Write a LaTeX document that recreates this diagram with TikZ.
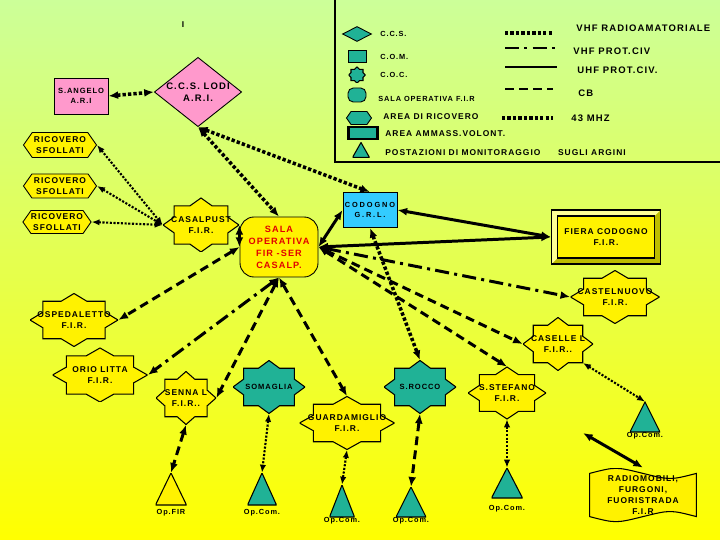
\documentclass[tikz,border=0pt]{standalone}
\usepackage{fontspec}
\setmainfont{Liberation Sans}
\newfontfamily\lbl[LetterSpace=12]{Liberation Sans}
\usetikzlibrary{arrows.meta, positioning, shapes.geometric, shapes.symbols, calc}
\newlength\unitpx
\setlength\unitpx{0.02cm}
\definecolor{bgtop}{RGB}{204,255,153}
\definecolor{bgbot}{RGB}{255,255,0}
\definecolor{pinkbox}{RGB}{255,153,204}
\definecolor{tealbox}{RGB}{32,178,150}
\definecolor{cyanbox}{RGB}{51,204,255}
\definecolor{bevdark}{RGB}{189,189,0}
\definecolor{bevlight}{RGB}{255,255,150}
\definecolor{salared}{RGB}{225,0,0}

\begin{document}
\begin{tikzpicture}[
    x=0.02cm, y=-0.02cm,
    every node/.style={font=\lbl\bfseries\fontsize{4.8}{6.2}\selectfont, align=center, inner sep=0pt},
    small/.style={font=\lbl\bfseries\fontsize{4.2}{5}\selectfont},
    mid/.style={font=\lbl\bfseries\fontsize{4.3}{5.5}\selectfont},
    big/.style={font=\lbl\bfseries\fontsize{5.4}{7}\selectfont},
    lkey/.style={font=\lbl\bfseries\fontsize{5.4}{6}\selectfont},
    box/.style={draw, fill=#1, line width=0.5pt},
    hexa/.style={signal, signal to=west and east, signal pointer angle=110, draw, fill=#1, line width=0.5pt},
    starbox/.style n args={3}{minimum width=#1\unitpx, minimum height=#2\unitpx,
        path picture={\filldraw[fill=#3, line width=0.6pt]
            let \p0=(path picture bounding box.center), \p1=($(path picture bounding box.north east)-(\p0)$) in
            (\x0+\x1,\y0) -- (\x0+.707*\x1,\y0+.293*\y1) -- (\x0+.707*\x1,\y0+.707*\y1) -- (\x0+.293*\x1,\y0+.707*\y1)
            -- (\x0,\y0+\y1) -- (\x0-.293*\x1,\y0+.707*\y1) -- (\x0-.707*\x1,\y0+.707*\y1) -- (\x0-.707*\x1,\y0+.293*\y1)
            -- (\x0-\x1,\y0) -- (\x0-.707*\x1,\y0-.293*\y1) -- (\x0-.707*\x1,\y0-.707*\y1) -- (\x0-.293*\x1,\y0-.707*\y1)
            -- (\x0,\y0-\y1) -- (\x0+.293*\x1,\y0-.707*\y1) -- (\x0+.707*\x1,\y0-.707*\y1) -- (\x0+.707*\x1,\y0-.293*\y1) -- cycle;}},
    tri/.style n args={3}{minimum width=#2\unitpx, minimum height=#3\unitpx,
        path picture={\filldraw[fill=#1, line width=0.6pt] (path picture bounding box.south west) -- (path picture bounding box.north) -- (path picture bounding box.south east) -- cycle;}},
    bevel/.style={draw, line width=0.6pt, minimum width=109\unitpx, minimum height=54\unitpx,
        path picture={
            \fill[bevdark] (path picture bounding box.south west) rectangle (path picture bounding box.north east);
            \fill[bevlight] (path picture bounding box.south west) -- (path picture bounding box.north west) -- (path picture bounding box.north east)
                -- ([shift={(-6,6)}]path picture bounding box.north east) -- ([shift={(6,6)}]path picture bounding box.north west)
                -- ([shift={(6,-6)}]path picture bounding box.south west) -- cycle;
            \draw[fill=yellow, line width=0.6pt] ([shift={(6,6)}]path picture bounding box.north west) rectangle ([shift={(-6,-6)}]path picture bounding box.south east);}},
    wave/.style={minimum width=109\unitpx, minimum height=54\unitpx,
        path picture={\filldraw[fill=yellow, line width=0.6pt]
            let \p0=(path picture bounding box.center), \p1=($(path picture bounding box.north east)-(\p0)$) in
            (\x0-.98*\x1,\y0+.8*\y1) .. controls (\x0-.5*\x1,\y0+1.05*\y1) and (\x0-.5*\x1,\y0+1.05*\y1) .. (\x0,\y0+.8*\y1)
            .. controls (\x0+.5*\x1,\y0+.55*\y1) and (\x0+.5*\x1,\y0+.55*\y1) .. (\x0+.98*\x1,\y0+.8*\y1)
            -- (\x0+.98*\x1,\y0-.8*\y1) .. controls (\x0+.5*\x1,\y0-.55*\y1) and (\x0+.5*\x1,\y0-.55*\y1) .. (\x0,\y0-.8*\y1)
            .. controls (\x0-.5*\x1,\y0-1.05*\y1) and (\x0-.5*\x1,\y0-1.05*\y1) .. (\x0-.98*\x1,\y0-.8*\y1) -- cycle;}},
    arr/.style={>={Latex[length=5.5pt, width=4.5pt]}, <->},
    sarr/.style={>={Latex[length=4.5pt, width=3.6pt]}, <->},
    vhf/.style={arr, line width=2pt, dash pattern=on 1.9pt off 1.2pt},
    mhz/.style={sarr, line width=1.2pt, dash pattern=on 1.2pt off 0.9pt},
    pciv/.style={arr, line width=1.7pt, dash pattern=on 8pt off 3pt on 1.7pt off 3pt},
    uhf/.style={arr, line width=1.7pt},
    cb/.style={arr, line width=1.7pt, dash pattern=on 5pt off 3pt},
]
    \useasboundingbox (0,0) rectangle (720,540);
    \shade[top color=bgtop, bottom color=bgbot] (0,0) rectangle (720,540);

    % legend
    \draw[line width=0.6pt] (335,-5) rectangle (725,162);
    \node[diamond, box=tealbox, minimum width=29\unitpx, minimum height=15\unitpx] (kccs) at (357,34) {};
    \node[box=tealbox, minimum width=18\unitpx, minimum height=12\unitpx] (kcom) at (357,56) {};
    \node[starbox={17}{16}{tealbox}] (kcoc) at (357,75) {};
    \node[box=tealbox, rounded corners=3pt, minimum width=18\unitpx, minimum height=14\unitpx] (ksala) at (357,95) {};
    \node[hexa=tealbox, minimum width=25\unitpx, minimum height=13\unitpx] (kric) at (359,118) {};
    \node[box=tealbox, line width=1.3pt, minimum width=29\unitpx, minimum height=12\unitpx] (kamm) at (363,133) {};
    \node[tri={tealbox}{17}{15}] (kmon) at (361,150) {};
    \node[small, anchor=west] at (380,34) {C.C.S.};
    \node[small, anchor=west] at (380,57) {C.O.M.};
    \node[small, anchor=west] at (380,75) {C.O.C.};
    \node[small, anchor=west] at (378,99) {SALA OPERATIVA F.I.R};
    \node[anchor=west] at (383,117) {AREA DI RICOVERO};
    \node[anchor=west] at (385,134) {AREA AMMASS.VOLONT.};
    \node[anchor=west] at (385,153) {POSTAZIONI DI MONITORAGGIO\hspace{10pt}SUGLI ARGINI};

    \coordinate (k1a) at (505,33);  \coordinate (k1b) at (553,33);
    \coordinate (k2a) at (505,48);  \coordinate (k2b) at (558,48);
    \coordinate (k3a) at (505,67);  \coordinate (k3b) at (557,67);
    \coordinate (k4a) at (505,89);  \coordinate (k4b) at (553,89);
    \coordinate (k5a) at (502,118); \coordinate (k5b) at (553,118);
    \draw[vhf, -] (k1a) -- (k1b);
    \draw[pciv, -] (k2a) -- (k2b);
    \draw[uhf, -] (k3a) -- (k3b);
    \draw[cb, -] (k4a) -- (k4b);
    \draw[vhf, -] (k5a) -- (k5b);
    \node[lkey, anchor=west] at (576,28) {VHF RADIOAMATORIALE};
    \node[lkey, anchor=west] at (573,51) {VHF PROT.CIV};
    \node[lkey, anchor=west] at (577,70) {UHF PROT.CIV.};
    \node[lkey, anchor=west] at (578,93) {CB};
    \node[lkey, anchor=west] at (571,118) {43 MHZ};

    % stations
    \node (mark) at (183,25) {I};
    \node[box=pinkbox, mid, minimum width=54\unitpx, minimum height=36\unitpx] (angelo) at (81,96) {S.ANGELO\\A.R.I};
    \node[diamond, box=pinkbox, big, shape aspect=1.26] (lodi) at (198,92) {C.C.S. LODI\\A.R.I.};
    \node[hexa=yellow, minimum width=73\unitpx, minimum height=25\unitpx] (ric1) at (60,145) {RICOVERO\\SFOLLATI};
    \node[hexa=yellow, minimum width=73\unitpx, minimum height=24\unitpx] (ric2) at (60,186) {RICOVERO\\SFOLLATI};
    \node[hexa=yellow, minimum width=66\unitpx, minimum height=23\unitpx] (ric3) at (57,222) {RICOVERO\\SFOLLATI};
    \node[starbox={76}{54}{yellow}] (casal) at (201,225) {CASALPUST\\F.I.R.};
    \node[box=yellow, rounded corners=8pt, minimum width=78\unitpx, minimum height=60\unitpx, text=salared,
        font=\lbl\bfseries\fontsize{5.2}{6.8}\selectfont] (sala) at (279,247) {SALA\\OPERATIVA\\FIR -SER\\CASALP.};
    \node[box=cyanbox, minimum width=54\unitpx, minimum height=35\unitpx,
        font=\lbl\bfseries\fontsize{4.2}{6}\selectfont\addfontfeature{LetterSpace=25}] (codogno) at (370,210) {CODOGNO\\G.R.L.};
    \node[bevel] (fiera) at (606,237) {FIERA CODOGNO\\F.I.R.};
    \node[starbox={89}{53}{yellow}] (castel) at (615,297) {CASTELNUOVO\\F.I.R.};
    \node[starbox={70}{53}{yellow}] (caselle) at (558,344) {CASELLE L\\F.I.R..};
    \node[starbox={88}{53}{yellow}] (osped) at (74,320) {OSPEDALETTO\\F.I.R.};
    \node[starbox={95}{54}{yellow}] (orio) at (100,375) {ORIO LITTA\\F.I.R.};
    \node[starbox={60}{53}{yellow}] (senna) at (186,398) {SENNA L\\F.I.R..};
    \node[starbox={72}{53}{tealbox}, mid] (somaglia) at (269,387) {SOMAGLIA};
    \node[starbox={95}{53}{yellow}] (guard) at (347,423) {GUARDAMIGLIO\\F.I.R.};
    \node[starbox={72}{53}{tealbox}, mid] (srocco) at (420,387) {S.ROCCO};
    \node[starbox={78}{52}{yellow}] (sstef) at (507,393) {S.STEFANO\\F.I.R.};
    \node[wave] (radio) at (643,495) {RADIOMOBILI,\\FURGONI,\\FUORISTRADA\\F.I.R};
    \coordinate (mobile) at (583,433);

    % monitoring posts
    \node[tri={yellow}{31}{32}] (opfir) at (171,489) {};
    \node[tri={tealbox}{29}{32}] (opsom) at (262,489) {};
    \node[tri={tealbox}{25}{32}] (opguard) at (342,501) {};
    \node[tri={tealbox}{30}{30}] (oproc) at (411,502) {};
    \node[tri={tealbox}{31}{30}] (opstef) at (507,483) {};
    \node[tri={tealbox}{30}{30}] (opcas) at (645,417) {};
    \node[small, below=2pt of opfir] {Op.FIR};
    \node[small, below=2pt of opsom] {Op.Com.};
    \node[small, below=0pt of opguard] {Op.Com.};
    \node[small, below=0pt of oproc] {Op.Com.};
    \node[small, below=4pt of opstef] {Op.Com.};
    \node[small, below=0pt of opcas] {Op.Com.};

    % links
    \draw[vhf] (angelo.east) -- (lodi.west);
    \draw[vhf] (lodi.south) -- (sala.north);
    \draw[vhf] (lodi.south) -- (codogno.north);
    \draw[mhz] (ric1.east) -- (casal.west);
    \draw[mhz] (ric2.east) -- (casal.west);
    \draw[mhz] (ric3.east) -- (casal.west);
    \draw[uhf] (casal.east) -- (casal.east |- sala.west);
    \draw[uhf] (sala.east) -- (codogno.west);
    \draw[uhf] (sala.east) -- (fiera.west);
    \draw[uhf] (codogno.east) -- (fiera.west);
    \draw[pciv] (sala.east) -- (castel.west);
    \draw[cb] (sala.east) -- (caselle.west);
    \draw[cb] (sala.east) -- (sstef.north);
    \draw[vhf] (codogno.south) -- (srocco.north);
    \draw[cb] (sala.west) -- (osped.east);
    \draw[pciv] (sala.south) -- (orio.east);
    \draw[cb] (sala.south) -- (senna.east);
    \draw[cb] (sala.south) -- (guard.north);
    \draw[cb] (senna.south) -- (opfir.north);
    \draw[mhz] (somaglia.south) -- (opsom.north);
    \draw[mhz] (guard.south) -- (opguard.north);
    \draw[cb] (srocco.south) -- (oproc.north);
    \draw[mhz] (sstef.south) -- (opstef.north);
    \draw[mhz] ($(caselle.center)!.707!(caselle.south east)$) -- (opcas.north);
    \draw[uhf] (mobile) -- (radio.north);
\end{tikzpicture}
\end{document}
